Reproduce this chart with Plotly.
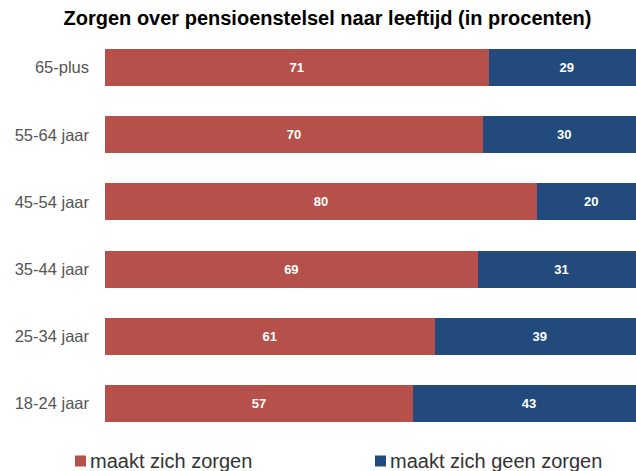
import plotly.graph_objects as go

categories = ["18-24 jaar", "25-34 jaar", "35-44 jaar", "45-54 jaar", "55-64 jaar", "65-plus"]
zorgen = [57, 61, 69, 80, 70, 71]
geen_zorgen = [43, 39, 31, 20, 30, 29]
series_names = ["maakt zich zorgen", "maakt zich geen zorgen"]
colors = ["#b5514a", "#224a7d"]

W, H = 636, 471
ML, MR, MT, MB = 105, 0, 34, 34
FONT = "Liberation Sans, Arial, Helvetica, sans-serif"

fig = go.Figure()
for name, vals, col in zip(series_names, [zorgen, geen_zorgen], colors):
    fig.add_trace(go.Bar(
        y=categories, x=vals, name=name, orientation="h",
        marker=dict(color=col, line=dict(width=0)),
        text=vals, textposition="inside", insidetextanchor="middle",
        textfont=dict(family=FONT, size=13, color="white", weight="bold"),
        width=0.55, showlegend=False,
    ))

# custom legend (square + text), positions in pixels converted to paper coords
pw = W - ML - MR
ph = H - MT - MB
def px_x(px):
    return (px - ML) / pw
def px_y(py):
    return (H - MB - py) / ph

legend_x = [75, 375]
legend_y = 461
sq = 11
shapes = []
annotations = []
for name, col, lx in zip(series_names, colors, legend_x):
    shapes.append(dict(type="rect", xref="paper", yref="paper",
                       x0=px_x(lx), x1=px_x(lx + sq),
                       y0=px_y(legend_y + sq / 2), y1=px_y(legend_y - sq / 2),
                       fillcolor=col, line=dict(width=0)))
    annotations.append(dict(xref="paper", yref="paper", x=px_x(lx + sq + 2), y=px_y(legend_y),
                            xanchor="left", yanchor="middle", showarrow=False, text=name,
                            font=dict(family=FONT, size=20, color="#333333")))

fig.update_layout(
    barmode="stack",
    width=W, height=H,
    margin=dict(l=ML, r=MR, t=MT, b=MB),
    paper_bgcolor="white", plot_bgcolor="white",
    title=dict(text="<b>Zorgen over pensioenstelsel naar leeftijd (in procenten)</b>",
               x=327.5 / W, xref="container", xanchor="center", y=1 - 18 / H, yanchor="middle",
               font=dict(family=FONT, size=20, color="black")),
    xaxis=dict(range=[0, 98.3], visible=False, fixedrange=True),
    yaxis=dict(showgrid=False, showline=False, ticks="", ticklabelstandoff=15, automargin=False,
               tickfont=dict(family=FONT, size=16.5, color="#555555")),
    shapes=shapes,
    annotations=annotations,
    showlegend=False,
)

fig.write_html("out.html", config={"displayModeBar": False},
               post_script="document.body.style.margin='0';document.body.style.overflow='hidden';")
